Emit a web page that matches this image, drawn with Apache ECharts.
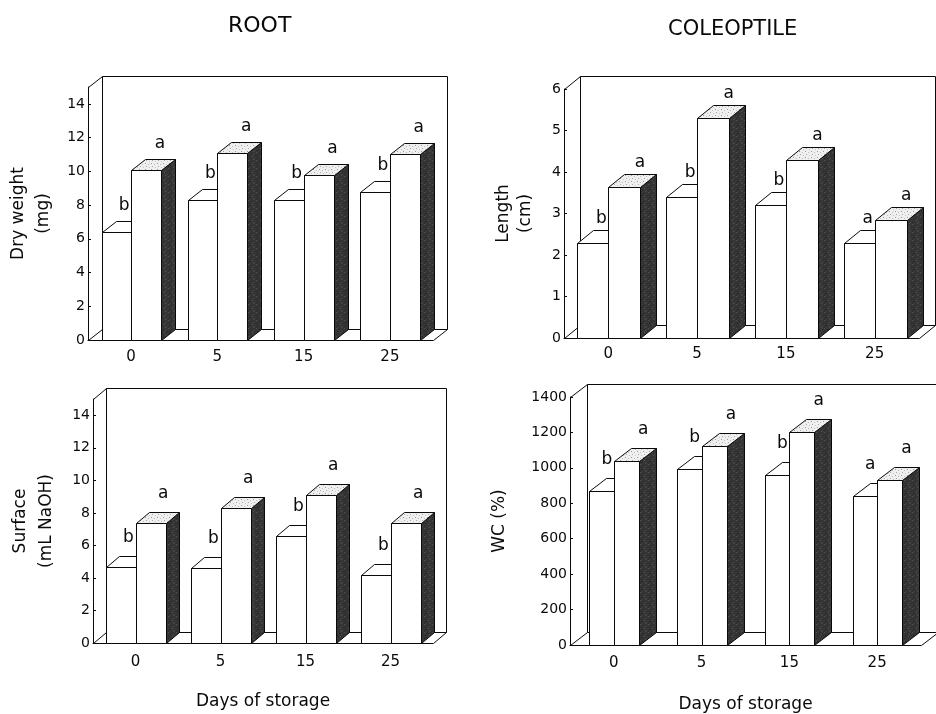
<!DOCTYPE html>
<html>
<head>
<meta charset="utf-8">
<script src="https://cdn.jsdelivr.net/npm/echarts@6/dist/echarts.min.js"></script>
<style>
html,body{margin:0;padding:0;background:#fff;}
#chart{width:936px;height:714px;}
</style>
</head>
<body>
<div id="chart"></div>
<script>
// ---------- data ----------
const categories = ['0', '5', '15', '25'];

const rootDryWhite = [6.4, 8.3, 8.3, 8.8];
const rootDryDark  = [10.1, 11.1, 9.8, 11.0];
const rootDryWhiteLetters = ['b', 'b', 'b', 'b'];
const rootDryDarkLetters  = ['a', 'a', 'a', 'a'];

const coleLenWhite = [2.3, 3.4, 3.2, 2.3];
const coleLenDark  = [3.65, 5.3, 4.3, 2.85];
const coleLenWhiteLetters = ['b', 'b', 'b', 'a'];
const coleLenDarkLetters  = ['a', 'a', 'a', 'a'];

const rootSurfWhite = [4.7, 4.6, 6.55, 4.2];
const rootSurfDark  = [7.4, 8.3, 9.1, 7.4];
const rootSurfWhiteLetters = ['b', 'b', 'b', 'b'];
const rootSurfDarkLetters  = ['a', 'a', 'a', 'a'];

const coleWcWhite = [870, 995, 960, 840];
const coleWcDark  = [1040, 1125, 1200, 930];
const coleWcWhiteLetters = ['b', 'b', 'b', 'a'];
const coleWcDarkLetters  = ['a', 'a', 'a', 'a'];

const rootTicks = [0, 2, 4, 6, 8, 10, 12, 14];
const lenTicks  = [0, 1, 2, 3, 4, 5, 6];
const wcTicks   = [0, 200, 400, 600, 800, 1000, 1200, 1400];

// ---------- textures ----------
function makePattern(bg, dots, size) {
  const c = document.createElement('canvas');
  c.width = size; c.height = size;
  const ctx = c.getContext('2d');
  ctx.fillStyle = bg; ctx.fillRect(0, 0, size, size);
  dots.forEach(d => { ctx.fillStyle = d[2]; ctx.fillRect(d[0], d[1], 1, 1); });
  return { type: 'pattern', image: c, repeat: 'repeat' };
}
const sidePattern = makePattern('#353535', [
  [0,0,'#505050'],[3,1,'#222'],[5,2,'#4a4a4a'],[1,3,'#1f1f1f'],[4,4,'#555'],[2,5,'#2a2a2a'],
  [6,6,'#474747'],[0,6,'#252525'],[5,7,'#525252'],[7,3,'#2d2d2d']
], 8);
const topPattern = makePattern('#efefef', [
  [1,1,'#9a9a9a'],[4,2,'#bdbdbd'],[2,4,'#a8a8a8'],[5,5,'#c4c4c4']
], 6);

// ---------- panel layout (styles / positions only) ----------
const panels = [
  {grid:{left:88, top:87, width:345, height:253}, max:15, step:2, ticks:rootTicks,
   white:rootDryWhite, dark:rootDryDark, wl:rootDryWhiteLetters, dl:rootDryDarkLetters,
   name:'Dry weight\n(mg)', nameGap:32, lh:25, bw:29.5, dx:14, dy:11, gap:16, xMargin:10, xName:''},
  {grid:{left:564, top:89, width:355, height:249}, max:6, step:1, ticks:lenTicks,
   white:coleLenWhite, dark:coleLenDark, wl:coleLenWhiteLetters, dl:coleLenDarkLetters,
   name:'Length\n(cm)', nameGap:27, lh:22, bw:31, dx:16, dy:13, gap:12, xMargin:9, xName:''},
  {grid:{left:93, top:399, width:340, height:244}, max:15, step:2, ticks:rootTicks,
   white:rootSurfWhite, dark:rootSurfDark, wl:rootSurfWhiteLetters, dl:rootSurfDarkLetters,
   name:'Surface\n(mL NaOH)', nameGap:33, lh:26, bw:29.5, dx:13, dy:11, gap:19, xMargin:12, xName:'Days of storage', xNameGap:50},
  {grid:{left:570, top:397, width:351, height:249}, max:1400, step:200, ticks:wcTicks,
   white:coleWcWhite, dark:coleWcDark, wl:coleWcWhiteLetters, dl:coleWcDarkLetters,
   name:'WC (%)', nameGap:60, lh:20, bw:24.5, dx:17, dy:13, gap:19, xMargin:11, xName:'Days of storage', xNameGap:51}
];

const FONT = 'DejaVu Sans';
const INK = '#0a0a0a';
const snap = v => Math.round(v) + 0.5;
const lineStyle = {stroke: INK, lineWidth: 1};

function frameRender(p) {
  return function (params, api) {
    const cs = params.coordSys;
    const L = snap(cs.x), R = snap(cs.x + cs.width), T = snap(cs.y), B = snap(cs.y + cs.height);
    const dx = p.dx, dy = p.dy;
    const seg = (a, b) => ({type: 'line', shape: {x1: a[0], y1: a[1], x2: b[0], y2: b[1]}, style: lineStyle});
    return {type: 'group', children: [
      seg([L + dx, B - dy], [R + dx, B - dy]),
      seg([L, B], [L + dx, B - dy]),
      seg([R, B], [R + dx, B - dy]),
      {type: 'polyline', shape: {points: [[L + dx, B - dy], [L + dx, T - dy], [R + dx, T - dy], [R + dx, B - dy]]}, style: {stroke: INK, lineWidth: 1, fill: null}},
      seg([L, T], [L + dx, T - dy])
    ]};
  };
}

function barRender(p) {
  return function (params, api) {
    const i = api.value(0);
    const base = api.coord([i, 0]);
    const x0 = base[0], y0 = snap(base[1]);
    const yw = snap(api.coord([i, api.value(1)])[1]);
    const yd = snap(api.coord([i, api.value(2)])[1]);
    const bw = p.bw, dx = p.dx, dy = p.dy;
    function box(xl, yt, topFill, sideFill) {
      xl = snap(xl); const xr = snap(xl + bw);
      return [
        {type: 'polygon', shape: {points: [[xr, yt], [xr + dx, yt - dy], [xr + dx, y0 - dy], [xr, y0]]}, style: {fill: sideFill, stroke: INK, lineWidth: 1}},
        {type: 'polygon', shape: {points: [[xl, yt], [xl + dx, yt - dy], [xr + dx, yt - dy], [xr, yt]]}, style: {fill: topFill, stroke: INK, lineWidth: 1}},
        {type: 'rect', shape: {x: xl, y: yt, width: xr - xl, height: y0 - yt}, style: {fill: '#fff', stroke: INK, lineWidth: 1}}
      ];
    }
    const font = '17px "' + FONT + '"';
    const children = [].concat(
      box(x0 - bw, yw, '#fff', '#fff'),
      box(x0, yd, topPattern, sidePattern),
      [
        {type: 'text', style: {text: p.wl[i], x: x0 - 7, y: yw - dy - p.gap, fill: INK, font: font, align: 'center', verticalAlign: 'middle'}},
        {type: 'text', style: {text: p.dl[i], x: x0 + bw / 2 + dx, y: yd - dy - p.gap, fill: INK, font: font, align: 'center', verticalAlign: 'middle'}}
      ]
    );
    return {type: 'group', children: children};
  };
}

const option = {
  animation: false,
  backgroundColor: '#fff',
  textStyle: {fontFamily: FONT, color: INK},
  title: [
    {text: 'ROOT', left: 228, top: 15, padding: 0, textStyle: {fontFamily: FONT, fontSize: 22, fontWeight: 'normal', color: INK}},
    {text: 'COLEOPTILE', left: 668, top: 19, padding: 0, textStyle: {fontFamily: FONT, fontSize: 21, fontWeight: 'normal', color: INK}}
  ],
  grid: panels.map(p => p.grid),
  xAxis: panels.map((p, k) => ({
    type: 'category', gridIndex: k, data: categories,
    axisLine: {lineStyle: {color: INK, width: 1}},
    axisTick: {show: false},
    axisLabel: {fontSize: 15, color: INK, margin: p.xMargin, fontFamily: FONT},
    name: p.xName, nameLocation: 'middle', nameGap: p.xNameGap || 0,
    nameTextStyle: {fontSize: 17, color: INK, fontFamily: FONT}
  })),
  yAxis: panels.map((p, k) => ({
    type: 'value', gridIndex: k, min: 0, max: p.max, interval: p.step,
    axisLine: {show: true, lineStyle: {color: INK, width: 1}},
    axisTick: {show: true, inside: true, length: 3, lineStyle: {color: INK}, customValues: p.ticks},
    axisLabel: {fontSize: 14, color: INK, margin: 3, fontFamily: FONT, customValues: p.ticks,
                formatter: v => String(v)},
    splitLine: {show: false},
    name: p.name, nameLocation: 'middle', nameRotate: 90, nameGap: p.nameGap,
    nameTextStyle: {fontSize: 17, color: INK, fontFamily: FONT, lineHeight: p.lh}
  })),
  series: [].concat(
    panels.map((p, k) => ({
      type: 'custom', xAxisIndex: k, yAxisIndex: k, z: 1, silent: true, clip: false,
      renderItem: frameRender(p), data: [[0, 0]]
    })),
    panels.map((p, k) => ({
      type: 'custom', xAxisIndex: k, yAxisIndex: k, z: 3, silent: true, clip: false,
      renderItem: barRender(p),
      data: categories.map((c, i) => [i, p.white[i], p.dark[i]])
    }))
  )
};

const chart = echarts.init(document.getElementById('chart'), null, {renderer: 'canvas'});
chart.setOption(option);
</script>
</body>
</html>
